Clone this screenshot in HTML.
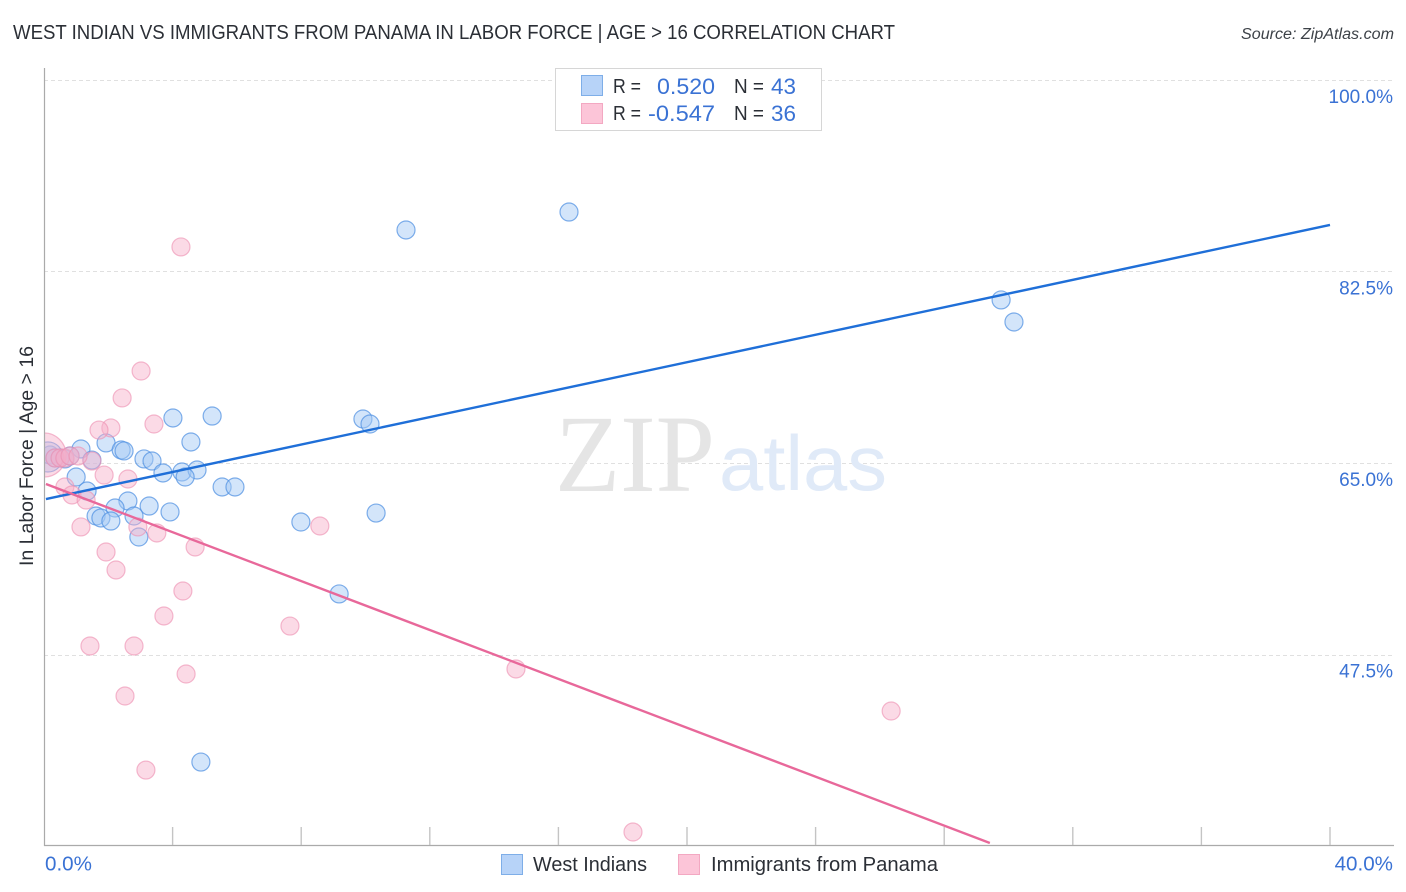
<!DOCTYPE html>
<html lang="en">
<head>
<meta charset="utf-8">
<title>West Indian vs Immigrants from Panama in Labor Force | Age &gt; 16 Correlation Chart</title>
<style>
html,body{margin:0;padding:0;background:#fff;}
svg{display:block;font-family:"Liberation Sans",sans-serif;}
</style>
</head>
<body>
<svg id="chart" width="1406" height="892" viewBox="0 0 1406 892" xmlns="http://www.w3.org/2000/svg">
  <text x="13" y="39" font-size="20" fill="#2b2f36" textLength="882" lengthAdjust="spacingAndGlyphs">WEST INDIAN VS IMMIGRANTS FROM PANAMA IN LABOR FORCE | AGE &gt; 16 CORRELATION CHART</text>
  <text x="1241" y="39" font-size="15.5" font-style="italic" fill="#3d4248" textLength="153" lengthAdjust="spacingAndGlyphs">Source: ZipAtlas.com</text>

  <g id="grid"></g>

  <g>
    <text x="555" y="491" font-family="'Liberation Serif',serif" font-size="110" fill="#e5e5e5" textLength="160" lengthAdjust="spacingAndGlyphs">ZIP</text>
    <text x="719" y="490" font-size="78" fill="#e0eaf8" textLength="168" lengthAdjust="spacingAndGlyphs">atlas</text>
  </g>

  <g id="points-blue"></g>
  <g id="points-pink"></g>
  <g id="trends"></g>
  <rect x="0" y="68" width="44" height="778" fill="#fff"></rect>

  <g id="axes">
    <line x1="44.5" y1="68" x2="44.5" y2="846" stroke="#aaaaaa" stroke-width="1.2"></line>
    <line x1="44" y1="845.5" x2="1394" y2="845.5" stroke="#aaaaaa" stroke-width="1.2"></line>
  </g>
  <g id="labels"></g>

  <text transform="translate(33,566) rotate(-90)" font-size="19" fill="#2b2f36" textLength="220" lengthAdjust="spacingAndGlyphs">In Labor Force | Age &gt; 16</text>

  <g>
    <rect x="555.5" y="68.5" width="266" height="62" fill="#fff" stroke="#d6d6d6" stroke-width="1"></rect>
    <rect x="581.5" y="75.5" width="21" height="20" fill="#b7d3f8" stroke="#7eaee8" stroke-width="1"></rect>
    <rect x="581.5" y="103.5" width="21" height="20" fill="#fcc5d8" stroke="#f3a8c2" stroke-width="1"></rect>
    <text x="613" y="93" font-size="20" fill="#2b2f36" textLength="28" lengthAdjust="spacingAndGlyphs">R =</text>
    <text x="715" y="94" font-size="22" fill="#3a72d4" text-anchor="end" textLength="58" lengthAdjust="spacingAndGlyphs">0.520</text>
    <text x="734" y="93" font-size="20" fill="#2b2f36" textLength="30" lengthAdjust="spacingAndGlyphs">N =</text>
    <text x="771" y="94" font-size="22" fill="#3a72d4" textLength="25" lengthAdjust="spacingAndGlyphs">43</text>
    <text x="613" y="120" font-size="20" fill="#2b2f36" textLength="28" lengthAdjust="spacingAndGlyphs">R =</text>
    <text x="715" y="121" font-size="22" fill="#3a72d4" text-anchor="end" textLength="67" lengthAdjust="spacingAndGlyphs">-0.547</text>
    <text x="734" y="120" font-size="20" fill="#2b2f36" textLength="30" lengthAdjust="spacingAndGlyphs">N =</text>
    <text x="771" y="121" font-size="22" fill="#3a72d4" textLength="25" lengthAdjust="spacingAndGlyphs">36</text>
  </g>

  <g>
    <g>
      <rect x="501.5" y="854.5" width="21" height="20" fill="#b7d3f8" stroke="#7eaee8" stroke-width="1"></rect>
      <text x="533" y="871" font-size="20" fill="#2b2f36" textLength="114" lengthAdjust="spacingAndGlyphs">West Indians</text>
    </g>
    <g>
      <rect x="678.5" y="854.5" width="21" height="20" fill="#fcc5d8" stroke="#f3a8c2" stroke-width="1"></rect>
      <text x="711" y="871" font-size="20" fill="#2b2f36" textLength="227" lengthAdjust="spacingAndGlyphs">Immigrants from Panama</text>
    </g>
  </g>
</svg>
<script>
const westIndianX = [11.26,16.33,29.77,30.17,4.01,5.23,9.92,10.14,4.57,1.93,1.15,2.40,2.49,3.11,3.36,1.49,3.70,4.29,4.76,4.39,5.54,5.94,1.00,1.34,2.61,2.21,3.27,3.92,2.80,1.62,1.77,2.08,2.95,7.99,10.33,9.18,4.88,0.19,0.34,0.50,0.65,0.81,0.12];
const westIndianY = [86.28,87.92,79.89,77.88,69.11,69.29,69.02,68.56,66.92,66.83,66.28,66.19,66.10,65.37,65.18,65.27,64.09,64.18,64.36,63.72,62.81,62.81,63.72,62.44,61.53,60.89,61.07,60.53,60.16,60.16,59.98,59.70,58.24,59.61,60.43,53.04,37.69,65.73,65.46,65.46,65.37,65.64,65.55];
const westIndianWeight = [1,1,1,1,1,1,1,1,1,1,1,1,1,1,1,1,1,1,1,1,1,1,1,1,1,1,1,1,1,1,1,1,1,1,1,1,1,1,1,1,1,1,2.8];
const panamaX = [4.26,3.02,2.43,3.42,2.08,1.71,1.49,1.87,2.61,0.65,0.87,1.31,1.15,2.92,3.51,4.70,1.93,2.24,4.32,3.73,7.65,8.58,1.43,2.80,4.42,2.52,3.17,14.68,26.35,18.32,0.00,0.34,0.50,0.65,0.81,1.06];
const panamaY = [84.73,73.40,70.94,68.56,68.20,68.01,65.18,63.90,63.54,62.81,62.08,61.62,59.16,59.16,58.61,57.33,56.87,55.23,53.31,51.03,50.11,59.25,48.29,48.29,45.73,43.72,36.96,46.19,42.35,31.30,65.73,65.46,65.46,65.46,65.64,65.64];
const panamaWeight = [1,1,1,1,1,1,1,1,1,1,1,1,1,1,1,1,1,1,1,1,1,1,1,1,1,1,1,1,1,1,6,1,1,1,1,1];
const trendBlueX = [0.06,40];
const trendBlueY = [61.71,86.74];
const trendPinkX = [0.06,29.42];
const trendPinkY = [63.08,30.3];
const yTicks = [100,82.5,65,47.5];
const yTickLabels = ["100.0%","82.5%","65.0%","47.5%"];
const xTicks = [4,8,12,16,20,24,28,32,36,40];

const NS = "http://www.w3.org/2000/svg";
function sx(v){return 44 + v * 32.15;}
function sy(v){return 463 + (65 - v) * 10.95;}
function rad(w){return 9 * Math.sqrt(w);}
function make(tag, attrs, parent){
  const e = document.createElementNS(NS, tag);
  for (const k in attrs) e.setAttribute(k, attrs[k]);
  parent.appendChild(e);
  return e;
}
const grid = document.getElementById("grid");
const axes = document.getElementById("axes");
const labels = document.getElementById("labels");
const pointsBlue = document.getElementById("points-blue");
const pointsPink = document.getElementById("points-pink");
const trends = document.getElementById("trends");

yTicks.forEach(function(t, i){
  const y = Math.round(sy(t)) + 0.5;
  const line = make("line", {x1:44, x2:1394, y1:y, y2:y, stroke:"#e0e0e0", "stroke-width":1, "stroke-dasharray":"4 3"}, grid);
  
  
  const label = make("text", {x:1393, y:sy(t)+23, "font-size":19, fill:"#3a72d4", "text-anchor":"end"}, labels);
  
  
  label.textContent = yTickLabels[i];
});
xTicks.forEach(function(t){
  const x = sx(t);
  const tick = make("line", {x1:x, x2:x, y1:827, y2:845, stroke:"#c4c4c4", "stroke-width":1.4}, axes);
  
  
});
const xMin = make("text", {x:45, y:870.5, "font-size":20.6, fill:"#3a72d4"}, labels);


xMin.textContent = "0.0%";
const xMax = make("text", {x:1393, y:870.5, "font-size":20.6, fill:"#3a72d4", "text-anchor":"end"}, labels);


xMax.textContent = "40.0%";

westIndianX.forEach(function(v, i){
  const c = make("circle", {cx:sx(v), cy:sy(westIndianY[i]), r:rad(westIndianWeight[i]), fill:"#a4c8f5", "fill-opacity":0.48, stroke:"#4f90e2", "stroke-opacity":0.72, "stroke-width":1.2}, pointsBlue);
  
  
});
panamaX.forEach(function(v, i){
  const c = make("circle", {cx:sx(v), cy:sy(panamaY[i]), r:rad(panamaWeight[i]), fill:"#f7aec8", "fill-opacity":0.46, stroke:"#ee90b2", "stroke-opacity":0.62, "stroke-width":1.2}, pointsPink);
  
  
});
const blueLine = make("line", {x1:sx(trendBlueX[0]), y1:sy(trendBlueY[0]), x2:sx(trendBlueX[1]), y2:sy(trendBlueY[1]), stroke:"#1f6fd8", "stroke-width":2.4}, trends);


const pinkLine = make("line", {x1:sx(trendPinkX[0]), y1:sy(trendPinkY[0]), x2:sx(trendPinkX[1]), y2:sy(trendPinkY[1]), stroke:"#e8689a", "stroke-width":2.4}, trends);


</script>
</body>
</html>
